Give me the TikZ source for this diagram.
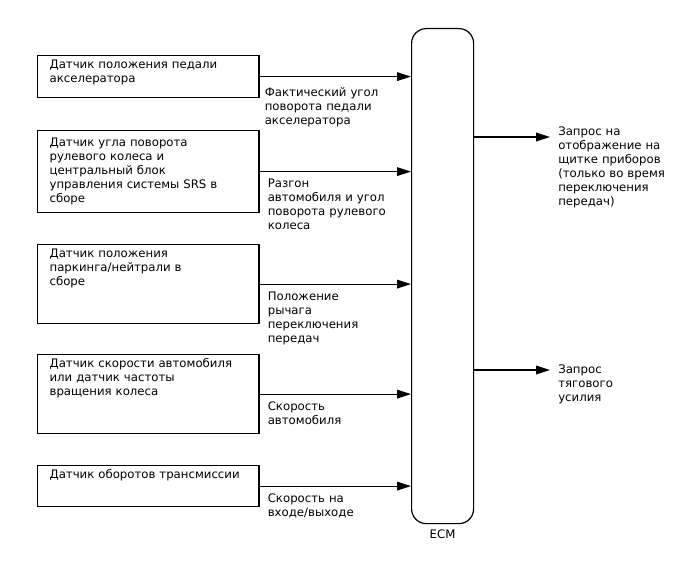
\documentclass[tikz,border=0pt]{standalone}
\usepackage{fontspec}
\setmainfont{DejaVu Sans}
\usetikzlibrary{arrows.meta, positioning}

\begin{document}
\begin{tikzpicture}[
    x=0.75pt, y=-0.75pt,
    font=\fontsize{8.8pt}{10.5pt}\selectfont,
    box/.style={rectangle, draw, line width=0.9pt, anchor=north west, text width=148pt,
                inner xsep=9pt, inner ysep=3pt, text height=6.75pt, align=left},
    ecmbox/.style={rectangle, draw, line width=0.9pt, rounded corners=11pt, anchor=north west,
                   minimum width=46.5pt, minimum height=371.25pt},
    sig/.style={text width=100pt, align=left, inner sep=0pt, text height=6pt},
    arr/.style={-{Triangle[length=10.5pt, width=6.5pt]}, line width=0.9pt},
]
    \useasboundingbox (0,0) rectangle (688,560);

    \node[box, text depth=18.75pt] (pedal) at (37,55)  {Датчик положения педали\\акселератора};
    \node[box, text height=9pt, text depth=46.5pt] (steer) at (37,130)
        {Датчик угла поворота\\рулевого колеса и\\центральный блок\\управления системы SRS в\\сборе};
    \node[box, text depth=46.5pt] (park)  at (37,244) {Датчик положения\\паркинга/нейтрали в\\сборе};
    \node[box, text depth=46.5pt] (speed) at (37,354) {Датчик скорости автомобиля\\или датчик частоты\\вращения колеса};
    \node[box, text depth=18pt]   (trans) at (37,465) {Датчик оборотов трансмиссии};

    \node[ecmbox] (ecm) at (411,28) {};
    \node[below=1pt of ecm] (ecmname) {ECM};

    \draw[arr] (pedal) -- (pedal -| ecm.west);
    \draw[arr] (steer) -- (steer -| ecm.west);
    \draw[arr] (park)  -- (park -| ecm.west);
    \draw[arr] (speed) -- (speed -| ecm.west);
    \draw[arr] (trans) -- (trans -| ecm.west);

    \node[sig, below right=9pt and 3.75pt of pedal.east] (pedalsig) {Фактический угол\\поворота педали\\акселератора};
    \node[sig, below right=6pt and 6pt of steer.east] (steersig) {Разгон\\автомобиля и угол\\поворота рулевого\\колеса};
    \node[sig, below right=6pt and 6pt of park.east]  (parksig)  {Положение\\рычага\\переключения\\передач};
    \node[sig, below right=6pt and 6pt of speed.east] (speedsig) {Скорость\\автомобиля};
    \node[sig, below right=6pt and 6pt of trans.east] (transsig) {Скорость на\\входе/выходе};

    \coordinate (dispout) at (550,137);
    \coordinate (tracout) at (550,370);
    \draw[arr] (ecm.east |- dispout) -- (dispout);
    \draw[arr] (ecm.east |- tracout) -- (tracout);

    \node[sig, anchor=north west] (disp) at ([xshift=6pt, yshift=7.5pt]dispout)
        {Запрос на\\отображение на\\щитке приборов\\(только во время\\переключения\\передач)};
    \node[sig, anchor=north west] (trac) at ([xshift=6pt, yshift=3.75pt]tracout)
        {Запрос\\тягового\\усилия};
\end{tikzpicture}
\end{document}
